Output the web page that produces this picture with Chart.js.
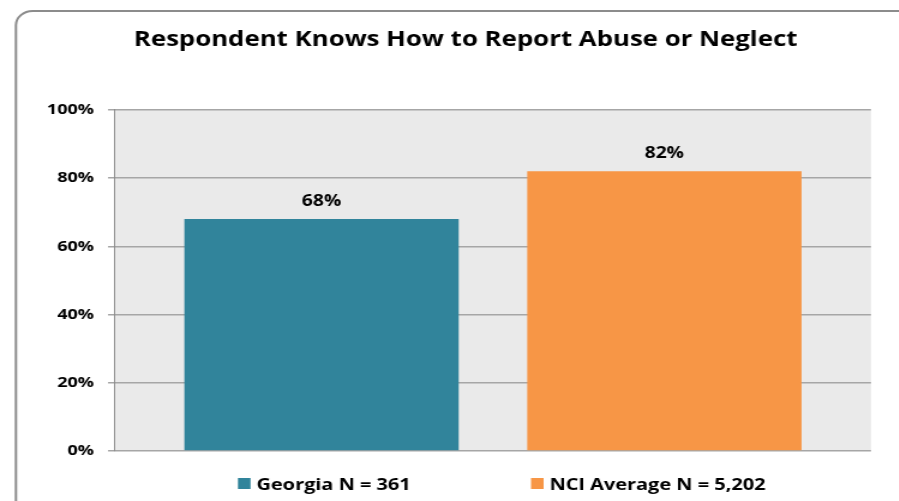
<!DOCTYPE html>
<html>
<head>
<meta charset="utf-8">
<script src="https://cdn.jsdelivr.net/npm/chart.js@4.4.1/dist/chart.umd.min.js"></script>
<style>
  html, body { margin: 0; padding: 0; background: #ffffff; overflow: hidden; }
  #wrap { position: relative; width: 899px; height: 501px; overflow: hidden; }
  #stretch { position: absolute; left: 0; top: 0; width: 749px; height: 501px;
             transform: scaleX(1.2); transform-origin: 0 0; }
</style>
</head>
<body>
<div id="wrap"><div id="stretch"><canvas id="c" width="749" height="501"></canvas></div></div>
<script>
// ---- data ----
const chartTitle = 'Respondent Knows How to Report Abuse or Neglect';
const categories = [''];
const seriesLabels = ['Georgia N = 361', 'NCI Average N = 5,202'];
const georgiaValues = [68];
const nciValues = [82];
const seriesColors = ['#31849B', '#F79646'];
const yTicks = [0, 20, 40, 60, 80, 100];

const FONT = '"Open Sans", "DejaVu Sans", sans-serif';

const framePlugin = {
  id: 'frame',
  beforeDraw(chart) {
    const ctx = chart.ctx;
    ctx.save();
    ctx.fillStyle = '#ffffff';
    ctx.fillRect(0, 0, chart.width, chart.height);
    ctx.beginPath();
    ctx.roundRect(13.3, 11, chart.width + 30, chart.height + 30, 14);
    ctx.strokeStyle = '#8c8c8c';
    ctx.lineWidth = 2;
    ctx.stroke();
    const a = chart.chartArea;
    ctx.fillStyle = '#eaeaea';
    ctx.fillRect(a.left, a.top, a.right - a.left, a.bottom - a.top);
    ctx.restore();
  }
};

// shift the title box so it is centred like the reference
const titleShiftPlugin = {
  id: 'titleShift',
  afterLayout(chart) {
    if (chart.titleBlock) {
      chart.titleBlock.left = 50.2;
      chart.titleBlock.right = chart.width - 23.2;
      chart.titleBlock.width = chart.titleBlock.right - chart.titleBlock.left;
    }
  }
};

const labelPlugin = {
  id: 'barLabels',
  afterDatasetsDraw(chart) {
    const ctx = chart.ctx;
    ctx.save();
    ctx.font = 'bold 16px ' + FONT;
    ctx.fillStyle = '#000000';
    ctx.textAlign = 'center';
    ctx.textBaseline = 'middle';
    chart.data.datasets.forEach((ds, i) => {
      chart.getDatasetMeta(i).data.forEach((bar, j) => {
        ctx.fillText(ds.data[j] + '%', bar.x, bar.y - 18);
      });
    });
    ctx.restore();
  }
};

const legendPlugin = {
  id: 'customLegend',
  afterDraw(chart) {
    const ctx = chart.ctx;
    const xs = [198.3, 442.5];
    const y = 484;
    ctx.save();
    ctx.font = 'bold 16.6px ' + FONT;
    ctx.textBaseline = 'middle';
    ctx.textAlign = 'left';
    chart.data.datasets.forEach((ds, i) => {
      ctx.fillStyle = ds.backgroundColor;
      ctx.fillRect(xs[i], y - 6, 10.5, 11);
      ctx.fillStyle = '#000000';
      ctx.fillText(ds.label, xs[i] + 15.5, y + 1);
    });
    ctx.restore();
  }
};

new Chart(document.getElementById('c'), {
  type: 'bar',
  data: {
    labels: categories,
    datasets: [
      { label: seriesLabels[0], data: georgiaValues, backgroundColor: seriesColors[0] },
      { label: seriesLabels[1], data: nciValues, backgroundColor: seriesColors[1] }
    ]
  },
  options: {
    responsive: false,
    animation: false,
    devicePixelRatio: 1,
    categoryPercentage: 0.907,
    barPercentage: 0.8,
    layout: { padding: { top: 0, right: 23.2, bottom: 50, left: 0 } },
    plugins: {
      legend: { display: false },
      tooltip: { enabled: false },
      title: {
        display: true,
        text: chartTitle,
        color: '#000000',
        font: { family: FONT, size: 21.5, weight: 'bold' },
        padding: { top: 27, bottom: 57 }
      }
    },
    scales: {
      x: { display: false },
      y: {
        min: 0,
        max: 100,
        afterBuildTicks(scale) { scale.ticks = yTicks.map(v => ({ value: v })); },
        afterFit(scale) { scale.width = 95.8; },
        ticks: {
          color: '#000000',
          padding: 11.7,
          font: { family: FONT, size: 15, weight: 'bold' },
          callback: v => v + '%'
        },
        grid: { color: '#a6a6a6', lineWidth: 1.5, tickLength: 5.8 },
        border: { color: '#8c8c8c', width: 1 }
      }
    }
  },
  plugins: [framePlugin, titleShiftPlugin, labelPlugin, legendPlugin]
});
</script>
</body>
</html>
